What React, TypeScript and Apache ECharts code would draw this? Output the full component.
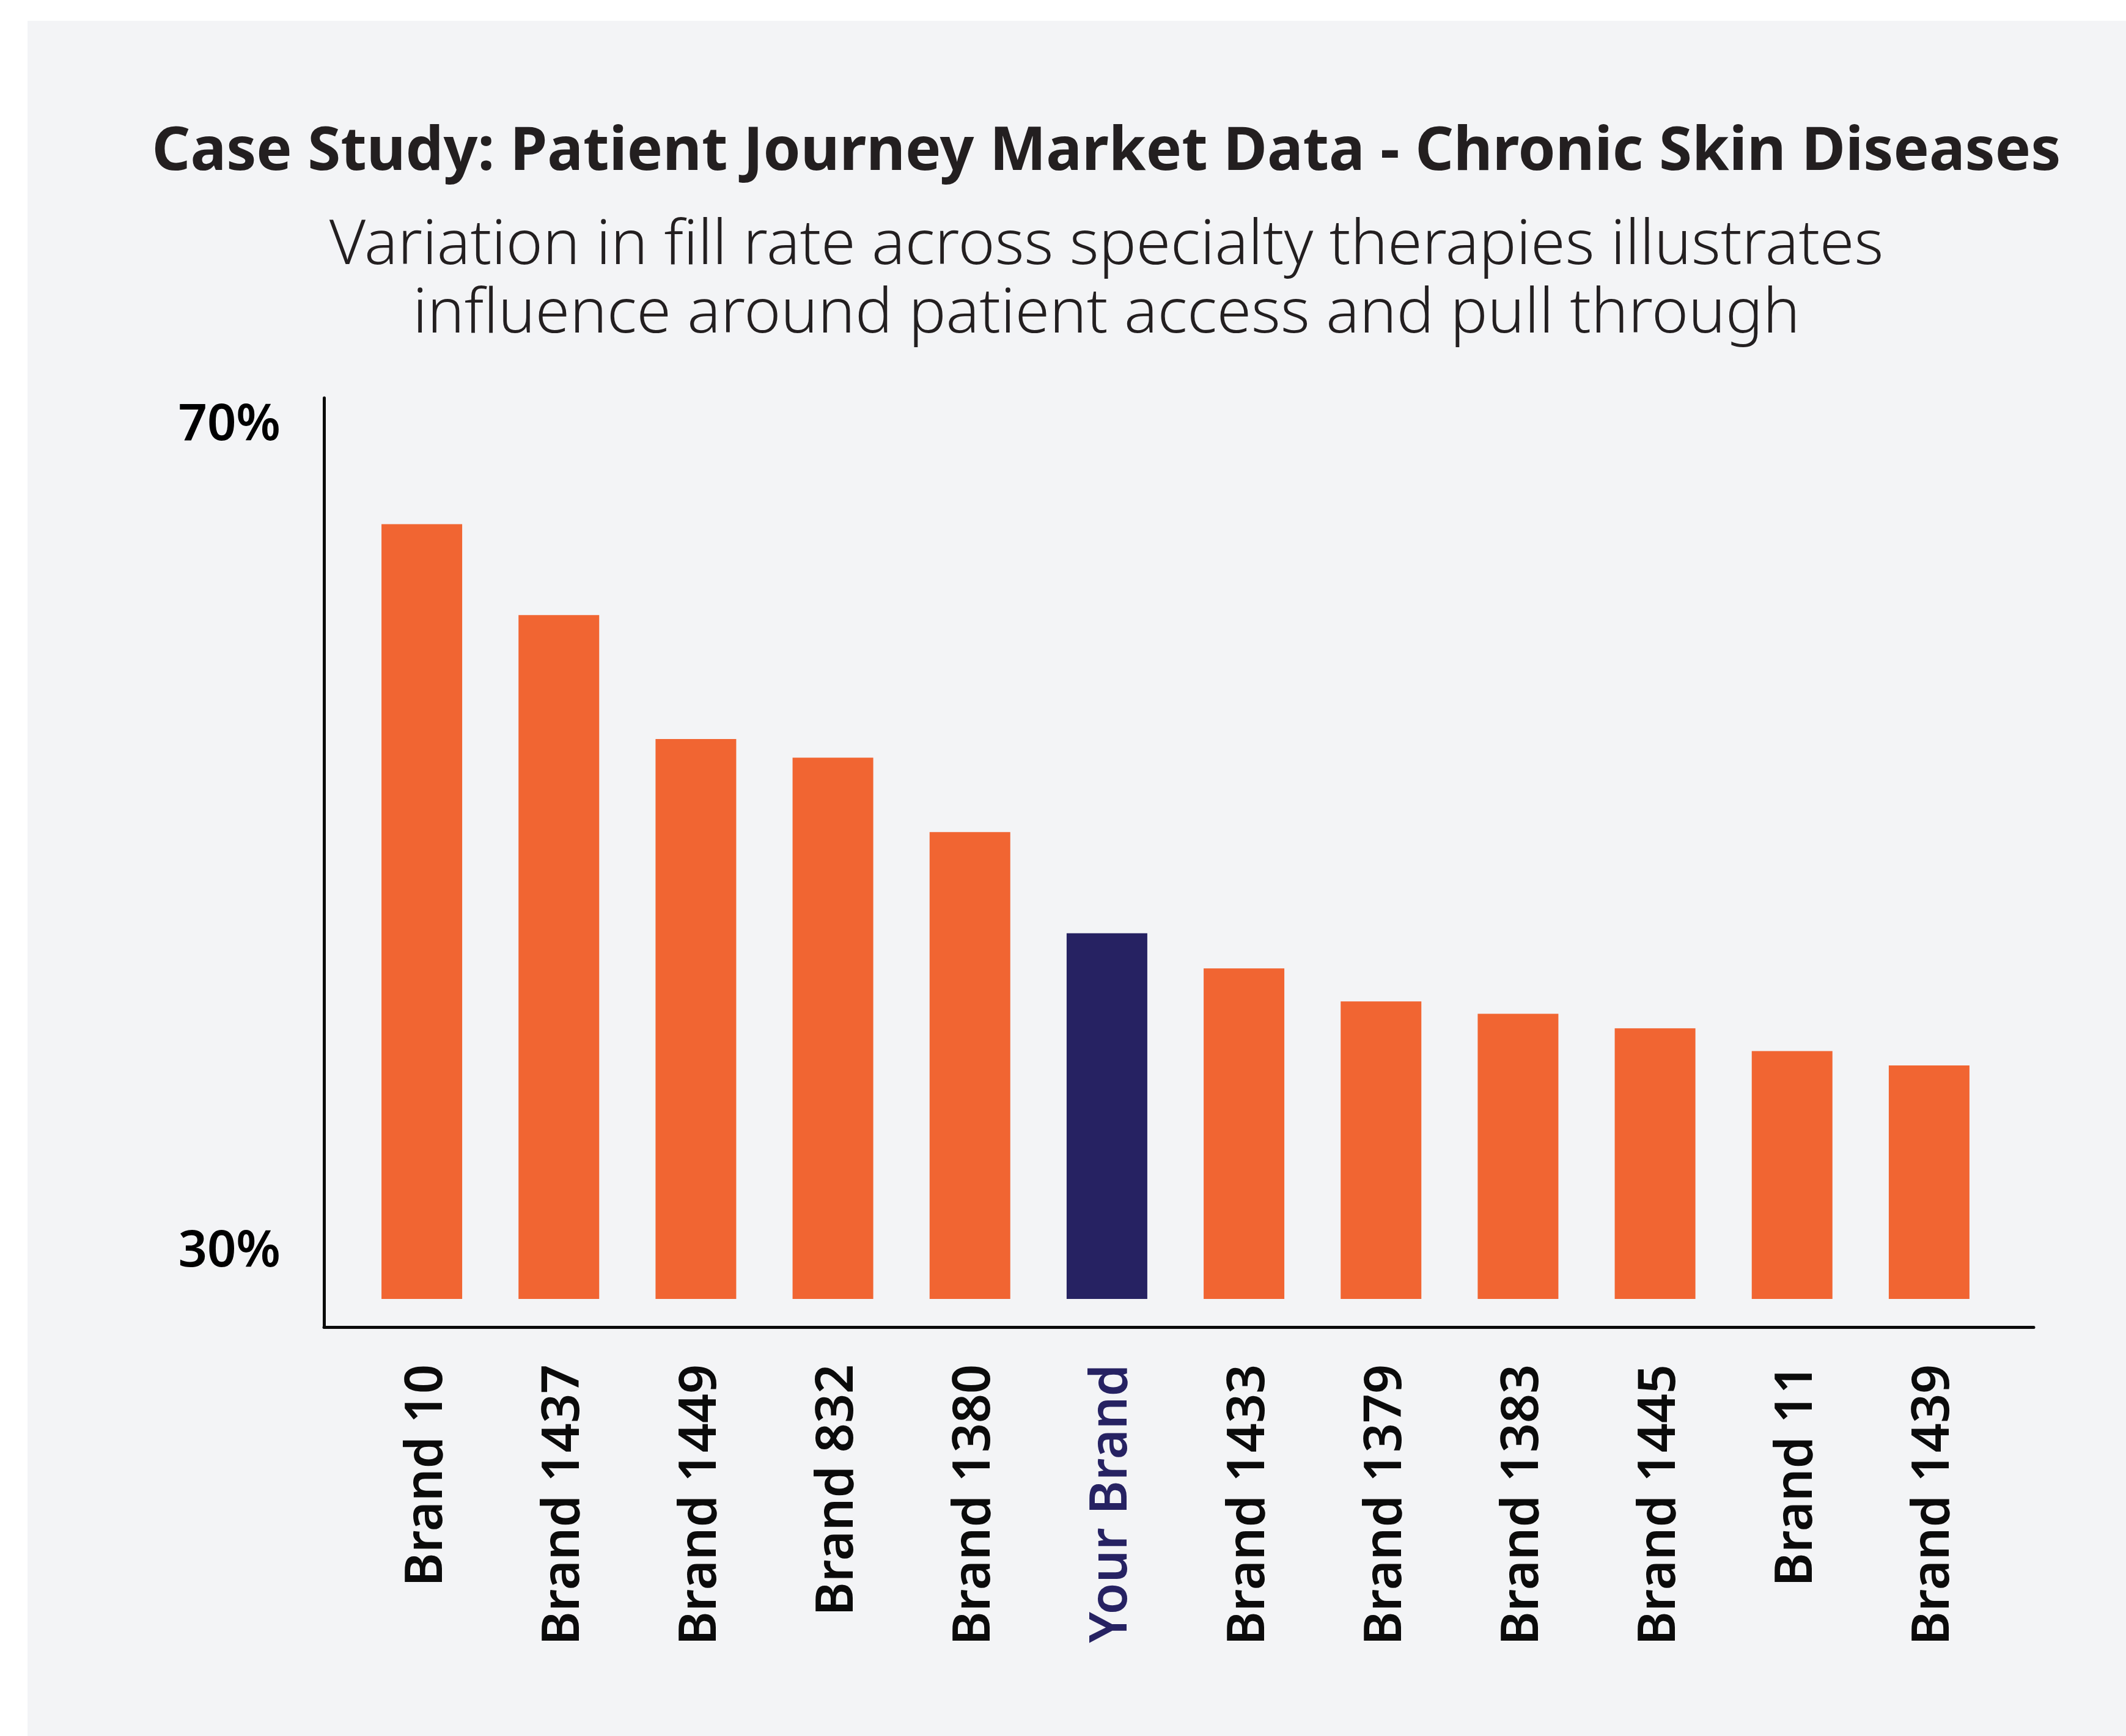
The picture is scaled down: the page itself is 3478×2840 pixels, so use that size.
import React, { useEffect, useRef } from "react";
import * as echarts from "echarts";

// ---- data ----
const categories = [
  "Brand 10",
  "Brand 1437",
  "Brand 1449",
  "Brand 832",
  "Brand 1380",
  "Your Brand",
  "Brand 1433",
  "Brand 1379",
  "Brand 1383",
  "Brand 1445",
  "Brand 11",
  "Brand 1439",
];
const fillRates = [67.5, 63.1, 57.1, 56.2, 52.6, 47.7, 46.0, 44.4, 43.8, 43.1, 42.0, 41.3];
const highlightBrand = "Your Brand";
const yTickValues = [30, 70];
const barBaseValue = 30;
const titleText = "Case Study: Patient Journey Market Data - Chronic Skin Diseases";
const subtitleLines = [
  "Variation in fill rate across specialty therapies illustrates",
  "influence around patient access and pull through",
];

// ---- style ----
const ORANGE = "#F16532";
const NAVY = "#262262";
const INK = "#231F20";
const AXIS = "#0B0B0B";
const PANEL = "#F3F4F6";
const FONT = "'Noto Sans', sans-serif";

export default function App() {
  const ref = useRef<HTMLDivElement>(null);

  useEffect(() => {
    if (!ref.current) return;
    const chart = echarts.init(ref.current, null, { renderer: "svg" });

    const option: any = {
      animation: false,
      backgroundColor: "#ffffff",
      graphic: [
        {
          type: "rect",
          z: -100,
          silent: true,
          shape: { x: 45, y: 34, width: 3433, height: 2806 },
          style: { fill: PANEL },
        },
        {
          type: "text",
          x: 1810,
          y: 240,
          style: {
            text: titleText,
            align: "center",
            verticalAlign: "middle",
            fontSize: 98,
            fontWeight: "bold",
            fontFamily: FONT,
            fill: INK,
          },
        },
        {
          type: "text",
          x: 1810,
          y: 448,
          style: {
            text: subtitleLines.join("\n"),
            align: "center",
            verticalAlign: "middle",
            fontSize: 102,
            lineHeight: 112,
            fontWeight: 300,
            fontFamily: FONT,
            fill: INK,
          },
        },
      ],
      grid: [
        { left: 530, top: 651, width: 2797, height: 1520, containLabel: false },
        { left: 578, top: 651, width: 2690, height: 1474, containLabel: false },
      ],
      xAxis: [
        {
          gridIndex: 0,
          type: "value",
          min: 0,
          max: 1,
          axisLine: { show: true, onZero: false, lineStyle: { color: AXIS, width: 5 } },
          axisTick: { show: false },
          axisLabel: { show: false },
          splitLine: { show: false },
        },
        {
          gridIndex: 1,
          type: "category",
          data: categories.map((c) => ({
            value: c,
            textStyle: { color: c === highlightBrand ? NAVY : AXIS },
          })),
          axisLine: { show: false },
          axisTick: { show: false },
          splitLine: { show: false },
          axisLabel: {
            interval: 0,
            rotate: 90,
            margin: 107,
            fontSize: 84,
            fontWeight: 600,
            fontFamily: FONT,
            color: AXIS,
          },
        },
      ],
      yAxis: [
        {
          gridIndex: 0,
          type: "value",
          min: 28.64,
          max: 73.61,
          axisLine: { show: true, onZero: false, lineStyle: { color: AXIS, width: 5 } },
          axisTick: { show: false },
          splitLine: { show: false },
          axisLabel: {
            customValues: yTickValues,
            formatter: (v: number) => `${v}%`,
            margin: 71,
            fontSize: 83,
            fontWeight: 600,
            fontFamily: FONT,
            color: "#000000",
            verticalAlign: "bottom",
            lineHeight: 172,
          },
        },
        {
          gridIndex: 1,
          type: "value",
          min: barBaseValue,
          max: 73.61,
          show: false,
          splitLine: { show: false },
        },
      ],
      series: [
        {
          type: "bar",
          xAxisIndex: 1,
          yAxisIndex: 1,
          barWidth: 132,
          data: fillRates.map((v, i) => ({
            value: v,
            itemStyle: { color: categories[i] === highlightBrand ? NAVY : ORANGE },
          })),
        },
      ],
    };

    chart.setOption(option);
    return () => chart.dispose();
  }, []);

  return (
    <div
      ref={ref}
      style={{ position: "absolute", left: 0, top: 0, width: 3478, height: 2840 }}
    />
  );
}
